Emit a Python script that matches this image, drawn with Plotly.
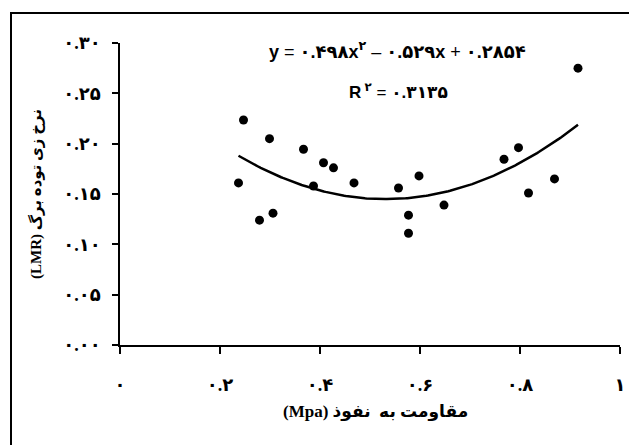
import numpy as np
import plotly.graph_objects as go

# Data
resistance = [0.237, 0.247, 0.279, 0.299, 0.306, 0.367, 0.387, 0.407, 0.427, 0.468,
              0.557, 0.577, 0.577, 0.598, 0.648, 0.768, 0.797, 0.817, 0.869, 0.916]
lmr = [0.161, 0.2235, 0.124, 0.205, 0.131, 0.1944, 0.158, 0.181, 0.176, 0.161,
       0.156, 0.129, 0.111, 0.168, 0.139, 0.1845, 0.196, 0.151, 0.165, 0.275]

# Trendline coefficients shown on the chart (a*x^2 + b*x + c)
trend_coef = [0.498, -0.529, 0.2854]

x_ticks = [0, 0.2, 0.4, 0.6, 0.8, 1]
x_ticklabels = ["۰", "۰.۲", "۰.۴", "۰.۶", "۰.۸", "۱"]
y_ticks = [0, 0.05, 0.10, 0.15, 0.20, 0.25, 0.30]
y_ticklabels = ["۰.۰۰", "۰.۰۵", "۰.۱۰", "۰.۱۵", "۰.۲۰", "۰.۲۵", "۰.۳۰"]

eq_text = "<b>y</b> = <b>۰.۴۹۸x<sup>۲</sup></b> – <b>۰.۵۲۹x</b> + <b>۰.۲۸۵۴</b>"
r2_text = "<b>R<sup> ۲</sup></b> = <b>۰.۳۱۳۵</b>"
x_title = "(Mpa) مقاومت به  نفوذ"
y_title = "(LMR) نرخ زی توده برگ"

xs = np.linspace(min(resistance), max(resistance), 200)
ys = np.polyval(trend_coef, xs)

fig = go.Figure()
fig.add_trace(go.Scatter(x=xs, y=ys, mode="lines",
                         line=dict(color="black", width=2.5), hoverinfo="skip"))
fig.add_trace(go.Scatter(x=resistance, y=lmr, mode="markers",
                         marker=dict(color="black", size=9)))

serif = "Times New Roman, Liberation Serif, DejaVu Sans"
sans = "Arial, Liberation Sans, DejaVu Sans"
fig.update_layout(
    width=629, height=445,
    margin=dict(l=120, r=9, t=43, b=100, autoexpand=False),
    paper_bgcolor="white", plot_bgcolor="white",
    showlegend=False,
    font=dict(family=serif, color="black", size=13),
    xaxis=dict(range=[0, 1], tickvals=x_ticks, ticktext=x_ticklabels,
               automargin=False,
               showgrid=False, zeroline=False, showline=True, linecolor="black",
               linewidth=1.5, ticks="outside", ticklen=7, tickwidth=1.5,
               tickcolor="black", ticklabelstandoff=16,
               tickfont=dict(family=serif, size=18, weight="bold")),
    yaxis=dict(range=[0, 0.30], tickvals=y_ticks, ticktext=y_ticklabels,
               automargin=False,
               showgrid=False, zeroline=False, showline=True, linecolor="black",
               linewidth=1.5, ticks="outside", ticklen=6, tickwidth=1.5,
               tickcolor="black", ticklabelstandoff=8,
               tickfont=dict(family=serif, size=18, weight="bold"),
               title=dict(text="<b>" + y_title + "</b>", standoff=18,
                          font=dict(family=serif, size=15))),
    annotations=[
        dict(text=eq_text, xref="paper", yref="paper", x=0.554, y=0.975,
             xanchor="center", yanchor="middle", showarrow=False,
             font=dict(family=sans, size=18)),
        dict(text=r2_text, xref="paper", yref="paper", x=0.556, y=0.84,
             xanchor="center", yanchor="middle", showarrow=False,
             font=dict(family=sans, size=17)),
        dict(text="<b>" + x_title + "</b>", xref="paper", yref="paper",
             x=0.51, y=-0.222, xanchor="center", yanchor="middle",
             showarrow=False, font=dict(family=serif, size=17)),
    ],
    shapes=[dict(type="rect", xref="paper", yref="paper",
                 x0=-0.218, x1=1.03, y0=-0.36, y1=1.099,
                 line=dict(color="black", width=2), layer="below")],
)

fig.write_html("out.html", config={"displayModeBar": False},
               post_script="document.body.style.margin='0';")
